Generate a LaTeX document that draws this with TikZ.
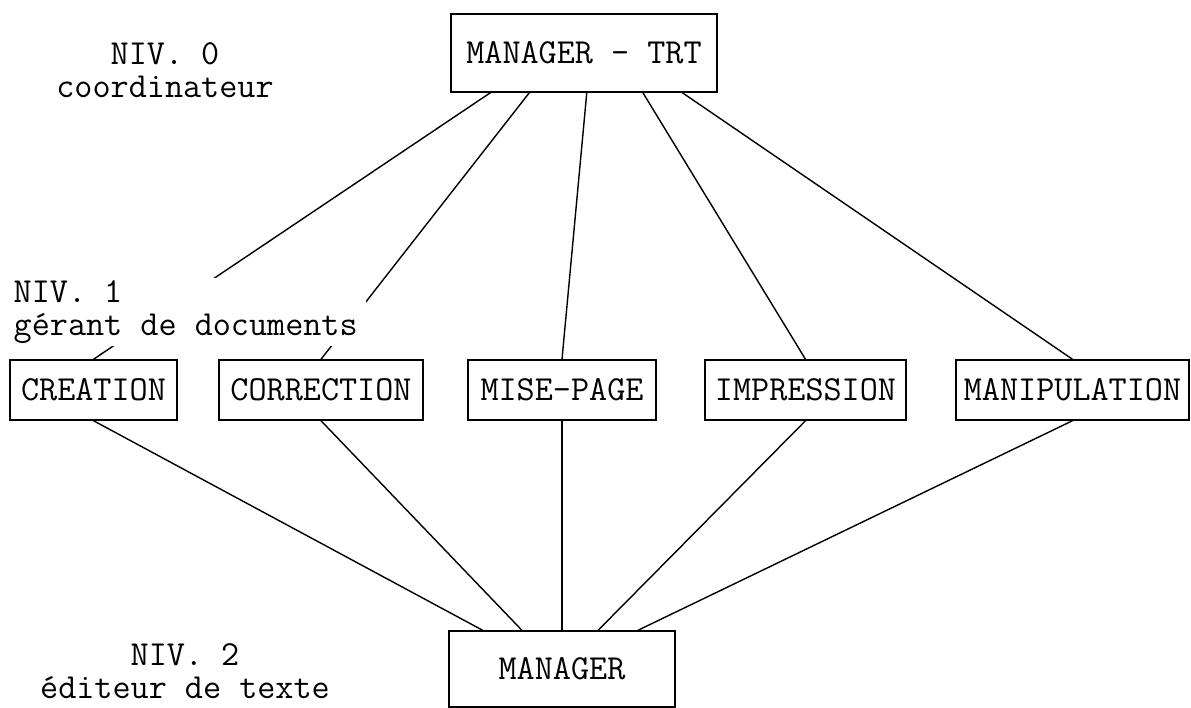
\documentclass[tikz,border=0pt]{standalone}
\usepackage{tikz}
\usetikzlibrary{positioning}

\tikzset{
  boite/.style={draw, line width=1pt, minimum height=1.5cm, inner sep=2pt},
  lien/.style={line width=1pt},
  niveau/.style={align=center, inner sep=2pt}
}

\begin{document}
\begin{tikzpicture}[x=0.025cm, y=-0.025cm, font=\fontsize{25}{23}\selectfont\ttfamily]
\useasboundingbox (0,0) rectangle (1191,708);
% niveau 0 : coordinateur
\node[boite, minimum width=6.65cm, minimum height=1.95cm] (trt) at (584,53) {MANAGER - TRT};
% niveau 1 : gerants de documents
\node[boite, minimum width=4.175cm] (creation) at (93.5,390) {CREATION};
\node[boite, minimum width=5.1cm] (correction) at (321,390) {CORRECTION};
\node[boite, minimum width=4.7cm] (misepage) at (562,390) {MISE-PAGE};
\node[boite, minimum width=5.025cm] (impression) at (805.5,390) {IMPRESSION};
\node[boite, minimum width=5.825cm] (manipulation) at (1072.5,390) {MANIPULATION};
% niveau 2 : editeur de texte
\node[boite, minimum width=5.65cm, minimum height=1.9cm] (manager) at (562,669) {MANAGER};
% liens niveau 0 -> niveau 1
\draw[lien] (trt.-157) -- (creation.north);
\draw[lien] (trt.-144) -- (correction.north);
\draw[lien] (trt.-86) -- (misepage.north);
\draw[lien] (trt.-34) -- (impression.north);
\draw[lien] (trt.-22) -- (manipulation.north);
% liens niveau 1 -> niveau 2
\draw[lien] (creation.south) -- (manager.154);
\draw[lien] (correction.south) -- (manager.136);
\draw[lien] (misepage.south) -- (manager.north);
\draw[lien] (impression.south) -- (manager.47);
\draw[lien] (manipulation.south) -- (manager.27);
% etiquettes des niveaux
\node[niveau] (niv0) at (165,70) {NIV. 0\\coordinateur};
\node[niveau, fill=white, align=left, inner xsep=6pt, anchor=north west] (niv1) at (5,278) {NIV. 1\\gérant de documents};
\node[niveau] (niv2) at (185,671) {NIV. 2\\éditeur de texte};
\end{tikzpicture}
\end{document}
